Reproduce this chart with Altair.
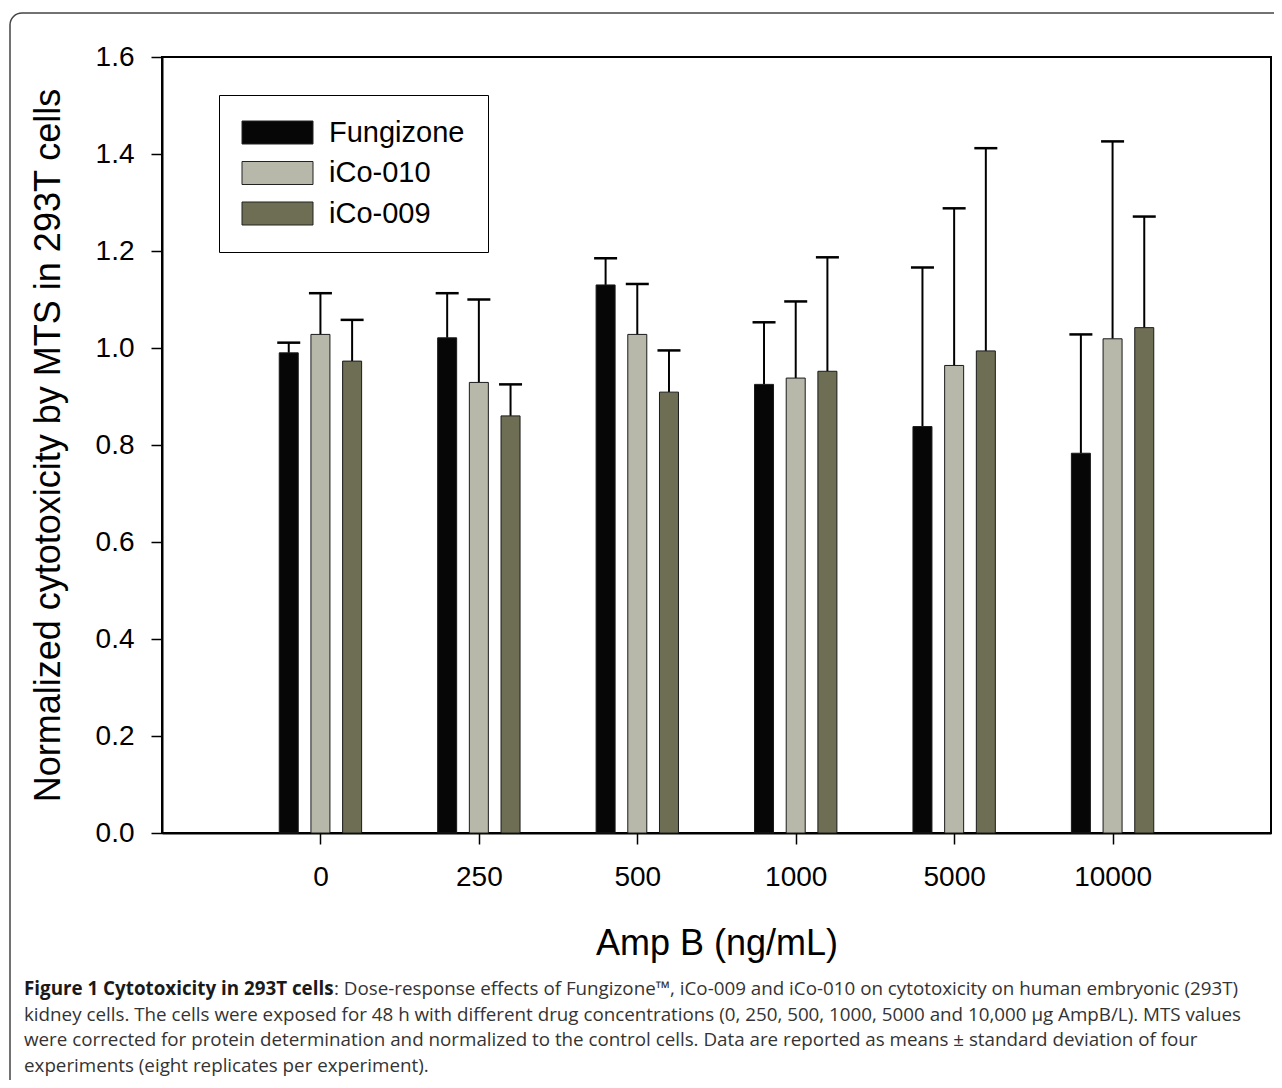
import json
import altair as alt
import pandas as pd

# ---------------- data ----------------
categories = ["0", "250", "500", "1000", "5000", "10000"]
series_names = ["Fungizone", "iCo-010", "iCo-009"]
fungizone_mean = [0.990, 1.021, 1.130, 0.925, 0.838, 0.783]
fungizone_sd = [0.021, 0.092, 0.055, 0.128, 0.328, 0.245]
ico010_mean = [1.028, 0.929, 1.028, 0.938, 0.964, 1.019]
ico010_sd = [0.085, 0.171, 0.104, 0.158, 0.324, 0.407]
ico009_mean = [0.973, 0.860, 0.909, 0.952, 0.994, 1.042]
ico009_sd = [0.085, 0.065, 0.086, 0.235, 0.418, 0.229]
colors = ["#060606", "#b8b8aa", "#6e6e55"]
y_ticks = [0.0, 0.2, 0.4, 0.6, 0.8, 1.0, 1.2, 1.4, 1.6]

y_title = "Normalized cytotoxicity by MTS in 293T cells"
x_title = "Amp B (ng/mL)"
caption_bold = "Figure 1 Cytotoxicity in 293T cells"
caption_rest = [
    ": Dose-response effects of Fungizone\u2122, iCo-009 and iCo-010 on cytotoxicity on human embryonic (293T)",
    "kidney cells. The cells were exposed for 48 h with different drug concentrations (0, 250, 500, 1000, 5000 and 10,000 \u00b5g AmpB/L). MTS values",
    "were corrected for protein determination and normalized to the control cells. Data are reported as means \u00b1 standard deviation of four",
    "experiments (eight replicates per experiment).",
]

means = [fungizone_mean, ico010_mean, ico009_mean]
sds = [fungizone_sd, ico010_sd, ico009_sd]
rows = []
for si, name in enumerate(series_names):
    for ci, cat in enumerate(categories):
        rows.append({"series": name, "si": si, "ci": ci, "cat": cat,
                     "mean": means[si][ci], "sd": sds[si][ci]})
df = pd.DataFrame(rows)

# ---------------- layout ----------------
W, H = 1109, 776
PAD_L, PAD_T = 154, 49
TOTAL_H = 1072
FONT = "Liberation Sans"

base = alt.Chart(df).transform_calculate(
    pos="datum.ci + (datum.si - 1) * 0.2",
    upper="datum.mean + datum.sd",
)

label_expr = json.dumps(categories) + "[datum.value]"
x_axis = alt.Axis(values=list(range(len(categories))), labelExpr=label_expr,
                  title=x_title, grid=False, tickSize=11, tickWidth=1.5,
                  labelFontSize=28, labelPadding=19, labelFont=FONT,
                  titleFont=FONT, titleFontSize=36, titleFontWeight="normal",
                  titleX=W / 2, titleY=121, titleBaseline="alphabetic",
                  titleAlign="center")
y_axis = alt.Axis(values=y_ticks, format=".1f", title=y_title, grid=False,
                  tickSize=11, tickWidth=1.5, labelFontSize=28, labelPadding=17,
                  labelFont=FONT, titleFont=FONT, titleFontSize=36,
                  titleFontWeight="normal", titleX=-103, titleY=H / 2,
                  titleAngle=270, titleBaseline="alphabetic", titleAlign="center")
x_scale = alt.Scale(domain=[-1, len(categories)], nice=False, zero=False, padding=0)
y_scale = alt.Scale(domain=[0, 1.6], nice=False)


def xe(field):
    return alt.X(field, type="quantitative", scale=x_scale, axis=x_axis)


def ye(field):
    return alt.Y(field, type="quantitative", scale=y_scale, axis=y_axis)


stems = base.mark_rule(color="black", strokeWidth=2).encode(
    x=xe("pos"), y=ye("mean"), y2="upper:Q")

caps = base.mark_tick(orient="horizontal", color="black", size=23,
                      thickness=2.5, opacity=1).encode(x=xe("pos"), y=ye("upper"))

bars = base.mark_bar(orient="vertical", size=19, stroke="#1a1a1a",
                     strokeWidth=1).encode(
    x=xe("pos"),
    y=ye("mean"),
    color=alt.Color("series:N",
                    scale=alt.Scale(domain=series_names, range=colors),
                    legend=alt.Legend(orient="none", legendX=57, legendY=38,
                                      title=None,
                                      symbolType="M-3.087,-1H3.087V1H-3.087Z",
                                      symbolSize=529, symbolStrokeColor="#222",
                                      symbolStrokeWidth=1, symbolOpacity=1,
                                      symbolOffset=21,
                                      labelFont=FONT, labelFontSize=29,
                                      labelColor="black", labelOffset=37,
                                      rowPadding=10.5, padding=23,
                                      strokeColor="black", fillColor="white")),
)

one = pd.DataFrame({"k": [0]})
frame = alt.Chart(one).mark_rect(filled=False, stroke="#444", strokeWidth=1.5,
                                 cornerRadius=12).encode(
    x=alt.value(-152), x2=alt.value(W + 200), y=alt.value(-44), y2=alt.value(H + 400))

cap_x = -138
cap_y0 = 938
cap_dy = 25.5
cap_font = "Open Sans"
cap_size = 18.8
text_layers = [
    alt.Chart(one).mark_text(text=caption_bold, align="left", baseline="alphabetic",
                             font=cap_font, fontSize=cap_size, fontWeight="bold",
                             color="#1a1a1a").encode(x=alt.value(cap_x), y=alt.value(cap_y0))
]
for i, line in enumerate(caption_rest):
    xx = cap_x + 310 if i == 0 else cap_x
    text_layers.append(
        alt.Chart(one).mark_text(text=line, align="left", baseline="alphabetic",
                                 font=cap_font, fontSize=cap_size,
                                 color="#333333").encode(
            x=alt.value(xx), y=alt.value(cap_y0 + i * cap_dy)))

chart = alt.layer(frame, stems, bars, caps, *text_layers).properties(
    width=W, height=H,
    autosize=alt.AutoSizeParams(type="none"),
    padding={"left": PAD_L, "top": PAD_T, "right": 3,
             "bottom": TOTAL_H - PAD_T - H},
    background="white",
).configure_view(stroke="black", strokeWidth=2).configure_axis(
    domainColor="black", domainWidth=2, tickColor="black",
    labelColor="black", titleColor="black")

chart.save("out.html", embed_options={"renderer": "svg", "actions": False})
